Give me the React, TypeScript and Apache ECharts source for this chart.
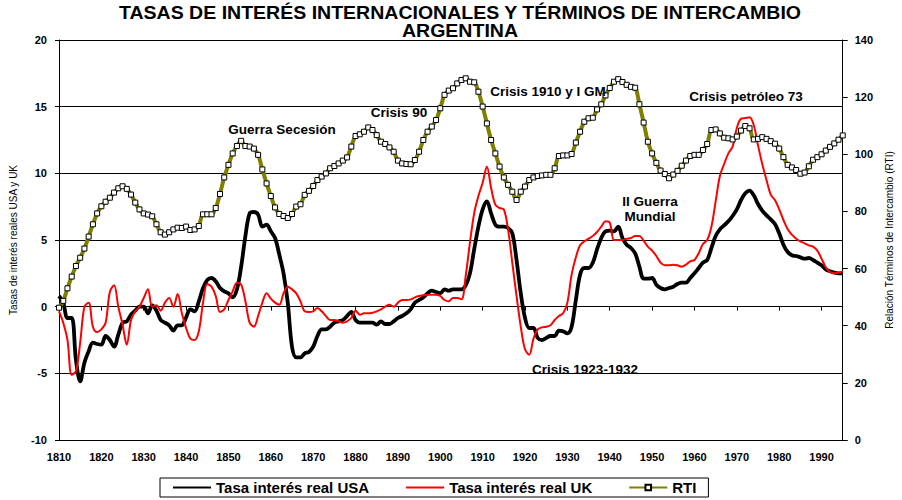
import React, { useEffect, useRef } from "react";
import * as echarts from "echarts";

const FONT = '"Liberation Sans", Arial, Helvetica, sans-serif';

const startYear = 1810;
const endYear = 1995;
const years: string[] = [];
for (let y = startYear; y <= endYear; y++) years.push(String(y));

// Tasa de interés real USA (eje izquierdo)
const usaRate = [
  0.8, 0.3, -0.85, -0.85, -4.0, -5.6, -4.2, -3.35, -2.7, -2.8,
  -2.85, -2.2, -2.5, -3.0, -2.1, -1.2, -1.1, -0.6, -0.3, 0.0,
  0.0, -0.5, 0.1, -0.3, -1.0, -1.2, -1.4, -1.8, -1.4, -1.4,
  -0.8, -0.2, -0.35, 0.4, 1.4, 2.0, 2.15, 1.9, 1.4, 1.15,
  1.0, 0.7, 1.3, 3.0, 5.3, 7.0, 7.1, 6.9, 6.0, 6.15,
  5.65, 5.15, 3.9, 2.5, 0.3, -3.0, -3.8, -3.8, -3.5, -3.4,
  -3.0, -2.2, -1.7, -1.7, -1.5, -1.2, -1.1, -1.0, -0.7, -0.4,
  -1.0, -1.2, -1.2, -1.2, -1.2, -1.35, -1.1, -1.3, -1.3, -1.1,
  -0.85, -0.7, -0.5, -0.2, 0.3, 0.5, 0.7, 1.0, 1.2, 1.1,
  1.0, 1.3, 1.2, 1.3, 1.3, 1.3, 1.6, 2.5, 4.3, 6.0,
  7.3, 7.9, 7.0, 6.15, 6.0, 6.0, 5.9, 5.5, 3.5, 1.0,
  -0.85, -1.6, -1.6, -2.35, -2.5, -2.35, -2.2, -2.2, -1.8, -1.85,
  -2.0, -1.5, 0.5, 2.4, 2.9, 2.9, 3.3, 4.3, 5.15, 5.65,
  5.7, 5.65, 6.0, 5.15, 4.65, 4.4, 4.0, 3.0, 2.1, 2.1,
  2.15, 1.65, 1.4, 1.3, 1.4, 1.5, 1.7, 1.8, 1.8, 2.15,
  2.5, 2.9, 3.3, 3.5, 4.4, 5.3, 5.8, 6.1, 6.4, 6.8,
  7.3, 8.0, 8.5, 8.7, 8.35, 7.7, 7.2, 6.85, 6.55, 6.2,
  5.5, 4.65, 4.1, 3.85, 3.8, 3.7, 3.6, 3.65, 3.5, 3.3,
  3.1, 2.8, 2.65, 2.55, 2.5, 2.5,
];

// Tasa de interés real UK (eje izquierdo)
const ukRate = [
  -0.35, -1.2, -2.5, -5.1, -4.85, -2.7, 0.0, 0.3, -1.5, -1.9,
  -1.7, -1.2, 1.1, 1.6, 0.0, -1.35, -2.85, -1.0, -0.35, 0.0,
  0.65, 1.3, 0.0, 0.1, -0.3, 0.3, 0.65, 0.0, 0.95, -0.5,
  -1.6, -2.4, -2.5, -1.85, 0.3, 1.7, 1.5, 0.8, -0.4, -0.2,
  0.5, 1.15, 1.8, 1.65, 0.4, -1.2, -1.5, -0.7, 0.3, 1.0,
  0.6, 0.3, 0.15, 1.0, 1.5, 1.3, 1.0, 0.4, -0.35, -0.4,
  -0.35, -0.1, -0.35, -0.7, -1.0, -1.0, -1.1, -1.2, -1.1, -0.85,
  -0.3, -0.6, -0.5, -0.5, -0.45, -0.35, -0.2, 0.0, 0.15, 0.0,
  0.3, 0.5, 0.5, 0.55, 0.7, 0.8, 0.85, 0.9, 0.9, 0.9,
  0.8, 0.5, 0.4, 0.65, 0.65, 0.55, 2.3, 4.8, 7.0, 8.3,
  9.3, 10.5, 8.9, 7.65, 7.4, 7.3, 5.8, 3.3, 0.8, -1.5,
  -3.2, -3.6, -2.4, -1.7, -1.55, -1.5, -1.4, -1.0, -0.7, -0.5,
  0.3, 2.4, 3.7, 4.6, 4.9, 5.1, 5.3, 5.6, 6.0, 6.4,
  6.3, 5.0, 5.0, 5.0, 5.1, 5.15, 5.3, 5.3, 4.95, 4.5,
  4.2, 3.8, 3.3, 3.1, 3.1, 3.15, 3.1, 3.0, 3.15, 3.4,
  3.5, 4.0, 4.7, 5.0, 6.0, 7.9, 9.8, 10.7, 11.5, 12.0,
  13.4, 14.1, 14.15, 14.2, 13.6, 12.1, 10.7, 9.5, 8.4, 8.0,
  7.3, 6.5, 5.8, 5.4, 5.1, 4.9, 4.75, 4.6, 4.5, 4.2,
  3.6, 2.95, 2.6, 2.5, 2.55, 2.65,
];

// Relación Términos de Intercambio (eje derecho)
const rti = [
  46.3, 48.7, 53.1, 57.2, 60.9, 63.8, 67.0, 71.2, 75.5, 79.3,
  81.8, 83.4, 84.8, 86.6, 88.1, 88.8, 87.9, 85.9, 83.1, 80.7,
  79.3, 78.9, 78.3, 75.5, 72.7, 71.9, 72.7, 73.7, 74.3, 74.2,
  74.7, 73.5, 73.7, 74.9, 79.0, 79.0, 79.0, 81.2, 86.1, 91.9,
  96.3, 100.3, 102.9, 104.7, 102.9, 102.7, 102.0, 99.8, 94.7, 89.8,
  85.4, 81.4, 79.1, 78.4, 77.7, 79.1, 81.7, 82.5, 85.8, 87.2,
  88.9, 91.0, 92.2, 93.3, 95.1, 95.9, 96.8, 97.8, 98.9, 102.7,
  106.4, 107.0, 107.9, 109.4, 108.5, 106.7, 104.4, 103.6, 102.4, 100.9,
  97.8, 96.8, 96.6, 96.5, 98.0, 100.9, 105.0, 107.9, 109.7, 112.0,
  116.1, 120.8, 122.3, 123.1, 124.8, 126.0, 126.6, 125.4, 125.2, 121.9,
  116.7, 110.8, 105.0, 100.3, 95.7, 91.9, 89.3, 86.9, 84.0, 86.9,
  88.7, 91.0, 91.9, 92.4, 92.6, 92.8, 92.8, 95.1, 99.4, 99.6,
  99.6, 100.1, 104.1, 107.9, 111.4, 112.6, 112.8, 115.7, 117.5, 120.6,
  123.2, 125.4, 126.3, 125.3, 124.3, 123.6, 123.3, 117.5, 111.1, 104.4,
  100.3, 97.0, 94.3, 93.1, 91.6, 92.9, 94.2, 96.0, 97.8, 99.4,
  99.8, 99.8, 101.5, 103.6, 108.5, 108.7, 107.3, 105.8, 105.6, 105.2,
  106.2, 108.3, 109.9, 109.1, 105.2, 105.4, 106.0, 105.4, 104.6, 103.7,
  102.0, 99.0, 96.3, 95.4, 94.5, 93.2, 93.6, 95.8, 98.1, 99.0,
  100.0, 101.3, 102.6, 103.8, 105.1, 106.6,
];

const seriesNames = ["Tasa interés real USA", "Tasa interés real UK", "RTI"];

const titleLines = [
  "TASAS DE INTERÉS INTERNACIONALES Y TÉRMINOS DE INTERCAMBIO",
  "ARGENTINA",
];
const leftAxisName = "Tasas de interés reales USA y UK";
const rightAxisName = "Relación Términos de Intercambio (RTI)";

const annotations = [
  { text: "Guerra Secesión", x: 282, y: 129 },
  { text: "Crisis 90", x: 399, y: 112 },
  { text: "Crisis 1910 y I GM", x: 548, y: 91 },
  { text: "Crisis petróleo 73", x: 746, y: 96 },
  { text: "II Guerra\nMundial", x: 650, y: 208.5 },
  { text: "Crisis 1923-1932", x: 585, y: 369 },
];

export default function App() {
  const ref = useRef<HTMLDivElement>(null);

  useEffect(() => {
    document.body.style.margin = "0";
    if (!ref.current) return;
    const chart = echarts.init(ref.current, undefined, { renderer: "svg" });

    const axisLineStyle = { color: "#000", width: 1 };
    const tickLabel = {
      color: "#000",
      fontSize: 11,
      fontWeight: "bold" as const,
      fontFamily: FONT,
    };

    const titleGraphics = titleLines.map((t, i) => ({
      type: "text",
      x: 460,
      y: 13 + i * 18,
      scaleX: 1.085,
      z: 10,
      style: {
        text: t,
        fill: "#000",
        fontFamily: FONT,
        fontSize: 18,
        fontWeight: "bold",
        align: "center",
        verticalAlign: "middle",
      },
    }));

    const annotationGraphics = annotations.map((a) => ({
      type: "text",
      x: a.x,
      y: a.y,
      z: 10,
      style: {
        text: a.text,
        fill: "#000",
        fontFamily: FONT,
        fontSize: 13.5,
        fontWeight: "bold",
        lineHeight: 15,
        align: "center",
        verticalAlign: "middle",
      },
    }));

    const option: any = {
      animation: false,
      backgroundColor: "#fff",
      textStyle: { fontFamily: FONT },
      grid: { left: 58, right: 52, top: 40, bottom: 60, containLabel: false },
      legend: {
        data: [
          { name: seriesNames[0], itemStyle: { opacity: 0 } },
          { name: seriesNames[1], itemStyle: { opacity: 0 } },
          { name: seriesNames[2] },
        ],
        left: 160,
        top: 478,
        orient: "horizontal",
        padding: [2, 12],
        itemGap: 36,
        itemWidth: 38,
        itemHeight: 7,
        borderColor: "#000",
        borderWidth: 1,
        textStyle: {
          fontFamily: FONT,
          fontSize: 15,
          fontWeight: "bold",
          color: "#000",
        },
      },
      xAxis: [
        {
          type: "category",
          data: years,
          boundaryGap: false,
          position: "bottom",
          axisLine: { show: true, onZero: false, lineStyle: axisLineStyle },
          axisTick: { show: false },
          axisLabel: {
            ...tickLabel,
            margin: 11,
            interval: (i: number) => i % 10 === 0,
          },
          splitLine: { show: false },
        },
        {
          type: "category",
          data: years,
          boundaryGap: false,
          position: "bottom",
          axisLine: {
            show: true,
            onZero: true,
            onZeroAxisIndex: 0,
            lineStyle: axisLineStyle,
          },
          axisTick: {
            show: true,
            length: 4,
            interval: (i: number) => i % 10 === 0 && i > 0,
            lineStyle: axisLineStyle,
          },
          axisLabel: { show: false },
          splitLine: { show: false },
        },
      ],
      yAxis: [
        {
          type: "value",
          min: -10,
          max: 20,
          interval: 5,
          position: "left",
          name: leftAxisName,
          nameLocation: "middle",
          nameRotate: 90,
          nameGap: 41,
          nameTextStyle: { fontFamily: FONT, fontSize: 10, color: "#000" },
          axisLine: { show: true, onZero: false, lineStyle: axisLineStyle },
          axisTick: { show: true, length: 4, lineStyle: axisLineStyle },
          axisLabel: { ...tickLabel, margin: 12 },
          splitLine: { show: true, lineStyle: { color: "#000", width: 1 } },
        },
        {
          type: "value",
          min: 0,
          max: 140,
          interval: 20,
          position: "right",
          name: rightAxisName,
          nameLocation: "middle",
          nameRotate: 90,
          nameGap: 41,
          nameTextStyle: { fontFamily: FONT, fontSize: 10, color: "#000" },
          axisLine: { show: true, onZero: false, lineStyle: axisLineStyle },
          axisTick: { show: true, length: 5, lineStyle: axisLineStyle },
          axisLabel: { ...tickLabel, margin: 12 },
          splitLine: { show: false },
        },
      ],
      series: [
        {
          name: seriesNames[0],
          type: "line",
          xAxisIndex: 0,
          yAxisIndex: 0,
          data: usaRate,
          symbol: "none",
          smooth: 0.35,
          lineStyle: { color: "#000", width: 3.8 },
          itemStyle: { color: "#000" },
          z: 3,
        },
        {
          name: seriesNames[1],
          type: "line",
          xAxisIndex: 0,
          yAxisIndex: 0,
          data: ukRate,
          symbol: "none",
          smooth: 0.35,
          lineStyle: { color: "#ff0000", width: 2 },
          itemStyle: { color: "#ff0000" },
          z: 4,
        },
        {
          name: seriesNames[2],
          type: "line",
          xAxisIndex: 0,
          yAxisIndex: 1,
          data: rti,
          symbol: "rect",
          symbolSize: 5,
          showAllSymbol: true,
          smooth: 0.35,
          lineStyle: { color: "#808000", width: 4 },
          itemStyle: { color: "#fff", borderColor: "#000", borderWidth: 1 },
          z: 5,
        },
      ],
      graphic: [...titleGraphics, ...annotationGraphics],
    };

    chart.setOption(option);
    return () => {
      chart.dispose();
    };
  }, []);

  return <div ref={ref} style={{ width: 902, height: 500 }} />;
}
